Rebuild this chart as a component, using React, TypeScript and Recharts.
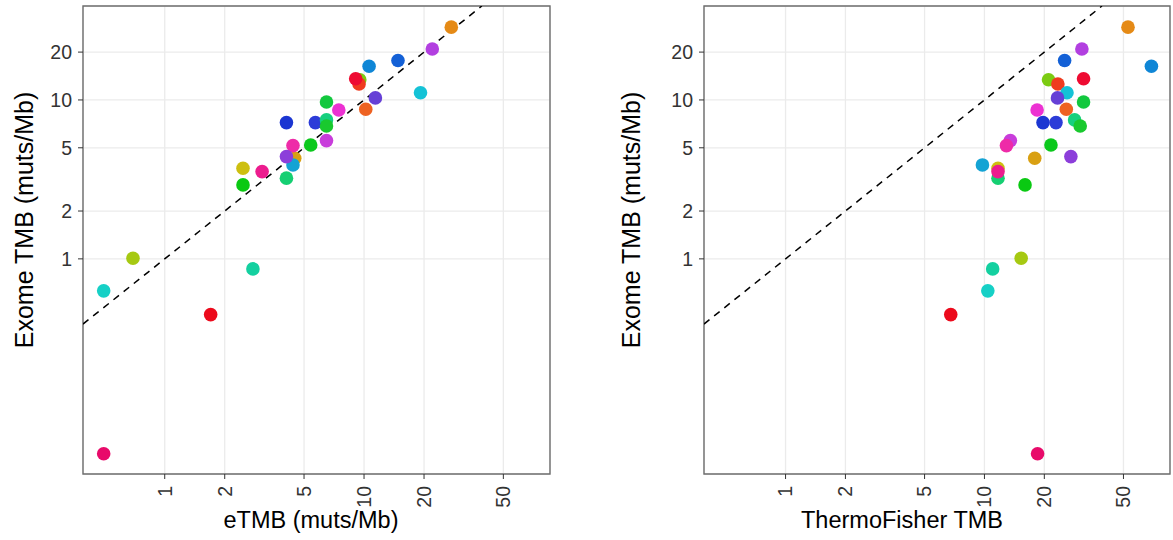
import React from 'react'
import { ScatterChart, Scatter, XAxis, YAxis, CartesianGrid, ReferenceLine, ReferenceArea, Label } from 'recharts'

// one colour per sample, same order in every array below
const SAMPLE_COLORS = [
  '#E58A16', '#B23FE0', '#1360D6', '#0F86D6', '#7BCB12', '#EF3B1F', '#EE0B32', '#14C2D6',
  '#6640D6', '#12C83E', '#EC31D2', '#EE6222', '#1B36D2', '#2C3CD8', '#16D07E', '#19C92E',
  '#0BC81C', '#C83DDB', '#D9A012', '#14A3D4', '#EE2BA8', '#8C3EDA', '#CDBF10', '#15CF72',
  '#EC1C8E', '#0AC912', '#A6C912', '#16D0C6', '#14D0A0', '#EC0A1C', '#E80A6A',
]

// eTMB (muts/Mb)
const ETMB = [
  27.4, 22.0, 14.8, 10.6, 9.52, 9.44, 9.08, 19.2,
  11.4, 6.48, 7.47, 10.2, 4.08, 5.70, 6.48, 6.48,
  5.40, 6.48, 4.49, 4.40, 4.40, 4.08, 2.47, 4.08,
  3.08, 2.47, 0.693, 0.494, 2.77, 1.70, 0.494,
]

// ThermoFisher TMB
const THERMO = [
  52.7, 30.9, 25.3, 69.1, 21.0, 23.4, 31.5, 26.0,
  23.3, 31.5, 18.4, 25.8, 19.7, 22.9, 28.4, 30.3,
  21.6, 13.5, 17.9, 9.77, 12.9, 27.2, 11.7, 11.7,
  11.7, 16.0, 15.3, 10.4, 11.0, 6.77, 18.5,
]

// Exome TMB (muts/Mb)
const EXOME = [
  28.7, 20.9, 17.7, 16.3, 13.4, 12.6, 13.6, 11.1,
  10.3, 9.71, 8.65, 8.74, 7.20, 7.20, 7.49, 6.86,
  5.21, 5.55, 4.30, 3.90, 5.16, 4.40, 3.72, 3.22,
  3.54, 2.92, 1.01, 0.629, 0.865, 0.446, 0.0594,
]

const X_TICKS = [1, 2, 5, 10, 20, 50]
const Y_TICKS = [1, 2, 5, 10, 20]
const X_DOMAIN = [0.389, 85.7]
const Y_DOMAIN = [0.0443, 39]

const FONT = '"Liberation Sans", Arial, Helvetica, sans-serif'

const leftData = ETMB.map((x, i) => ({ x, y: EXOME[i], color: SAMPLE_COLORS[i] }))
const rightData = THERMO.map((x, i) => ({ x, y: EXOME[i], color: SAMPLE_COLORS[i] }))

const Dot = (props: any) => <circle cx={props.cx} cy={props.cy} r={6.8} fill={props.payload.color} />

const XTick = (props: any) => {
  const { x, y, payload } = props
  const ty = y + 5
  return (
    <text x={x} y={ty} transform={`rotate(-90 ${x} ${ty})`} textAnchor="end" dy="0.35em"
      fill="#333" fontSize={19.5} fontFamily={FONT}>
      {payload.value}
    </text>
  )
}

interface PanelProps {
  data: { x: number; y: number; color: string }[]
  width: number
  yAxisWidth: number
  marginRight: number
  xTitle: string
  xTitleX: number
  yTitleX: number
}

function Panel({ data, width, yAxisWidth, marginRight, xTitle, xTitleX, yTitleX }: PanelProps) {
  return (
    <ScatterChart width={width} height={540} margin={{ top: 6, right: marginRight, bottom: 0, left: 0 }}>
      <CartesianGrid stroke="#EBEBEB" strokeWidth={1.3} />
      <XAxis type="number" dataKey="x" scale="log" domain={X_DOMAIN} ticks={X_TICKS} allowDataOverflow
        height={66} axisLine={false} tickSize={5} tickMargin={2} tickLine={{ stroke: '#333' }} tick={<XTick />}>
        <Label content={() => (
          <text x={xTitleX} y={528} textAnchor="middle" fontSize={23.5} fill="#000" fontFamily={FONT}>{xTitle}</text>
        )} />
      </XAxis>
      <YAxis type="number" dataKey="y" scale="log" domain={Y_DOMAIN} ticks={Y_TICKS} allowDataOverflow
        width={yAxisWidth} axisLine={false} tickSize={5} tickMargin={6} tickLine={{ stroke: '#333' }}
        tick={{ fill: '#333', fontSize: 19.5, fontFamily: FONT }}>
        <Label content={() => (
          <text x={yTitleX} y={220} transform={`rotate(-90 ${yTitleX} 220)`} textAnchor="middle" dy="0.35em"
            fontSize={25} fill="#000" fontFamily={FONT}>Exome TMB (muts/Mb)</text>
        )} />
      </YAxis>
      <Scatter data={data} shape={Dot} isAnimationActive={false} />
      <ReferenceLine segment={[{ x: X_DOMAIN[0], y: X_DOMAIN[0] }, { x: Y_DOMAIN[1], y: Y_DOMAIN[1] }]}
        stroke="#000" strokeWidth={1.5} strokeDasharray="7 6" ifOverflow="hidden" />
      <ReferenceArea x1={X_DOMAIN[0]} x2={X_DOMAIN[1]} y1={Y_DOMAIN[0]} y2={Y_DOMAIN[1]}
        fill="none" fillOpacity={0} stroke="#6e6e6e" strokeWidth={1.4} ifOverflow="visible" />
    </ScatterChart>
  )
}

export default function App() {
  return (
    <div style={{ position: 'absolute', left: 0, top: 0, width: 1173, height: 540, background: '#fff', fontFamily: FONT }}>
      <div style={{ position: 'absolute', left: 0, top: 0 }}>
        <Panel data={leftData} width={580} yAxisWidth={83} marginRight={30}
          xTitle="eTMB (muts/Mb)" xTitleX={311} yTitleX={24} />
      </div>
      <div style={{ position: 'absolute', left: 590, top: 0 }}>
        <Panel data={rightData} width={583} yAxisWidth={114} marginRight={3}
          xTitle="ThermoFisher TMB" xTitleX={312} yTitleX={41} />
      </div>
    </div>
  )
}
